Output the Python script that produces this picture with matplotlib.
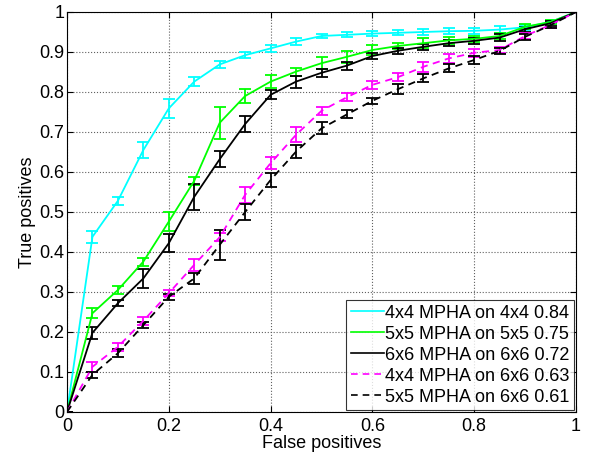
import matplotlib
matplotlib.use("Agg")
import matplotlib.pyplot as plt
import numpy as np

plt.rcParams['font.family'] = ['Liberation Sans', 'DejaVu Sans']

fp = [0, 0.05, 0.1, 0.15, 0.2, 0.25, 0.3, 0.35, 0.4, 0.45, 0.5,
      0.55, 0.6, 0.65, 0.7, 0.75, 0.8, 0.85, 0.9, 0.95, 1.0]

tp_44_44 = [0, 0.438, 0.528, 0.655, 0.759, 0.826, 0.869, 0.892, 0.909, 0.926, 0.940,
            0.943, 0.946, 0.948, 0.950, 0.952, 0.953, 0.956, 0.962, 0.975, 1.0]
err_44_44 = [0, 0.015, 0.01, 0.019, 0.023, 0.011, 0.008, 0.008, 0.008, 0.008, 0.006,
             0.006, 0.006, 0.006, 0.008, 0.008, 0.008, 0.008, 0.006, 0.006, 0]

tp_55_55 = [0, 0.247, 0.305, 0.376, 0.476, 0.578, 0.723, 0.790, 0.826, 0.851, 0.872,
            0.888, 0.905, 0.915, 0.922, 0.929, 0.933, 0.940, 0.963, 0.975, 1.0]
err_55_55 = [0, 0.013, 0.01, 0.01, 0.023, 0.01, 0.04, 0.017, 0.017, 0.01, 0.015,
             0.015, 0.012, 0.008, 0.013, 0.008, 0.008, 0.008, 0.006, 0.006, 0]

tp_66_66 = [0, 0.198, 0.272, 0.334, 0.422, 0.538, 0.632, 0.720, 0.793, 0.826, 0.848,
            0.866, 0.890, 0.903, 0.913, 0.922, 0.928, 0.936, 0.957, 0.972, 1.0]
err_66_66 = [0, 0.015, 0.008, 0.024, 0.023, 0.033, 0.02, 0.019, 0.011, 0.015, 0.01,
             0.01, 0.008, 0.008, 0.008, 0.008, 0.008, 0.008, 0.006, 0.006, 0]

tp_44_66 = [0, 0.113, 0.163, 0.228, 0.297, 0.368, 0.437, 0.543, 0.622, 0.693, 0.753,
            0.787, 0.818, 0.837, 0.863, 0.884, 0.898, 0.905, 0.940, 0.968, 1.0]
err_44_66 = [0, 0.013, 0.01, 0.01, 0.008, 0.015, 0.01, 0.02, 0.015, 0.019, 0.01,
             0.01, 0.01, 0.01, 0.012, 0.012, 0.01, 0.008, 0.008, 0.008, 0]

tp_55_66 = [0, 0.093, 0.147, 0.217, 0.288, 0.334, 0.418, 0.500, 0.580, 0.651, 0.709,
            0.744, 0.778, 0.807, 0.834, 0.859, 0.880, 0.903, 0.938, 0.967, 1.0]
err_55_66 = [0, 0.008, 0.01, 0.008, 0.008, 0.013, 0.0375, 0.021, 0.017, 0.017, 0.015,
             0.01, 0.008, 0.013, 0.01, 0.01, 0.01, 0.008, 0.008, 0.008, 0]

labels = ["4x4 MPHA on 4x4 0.84", "5x5 MPHA on 5x5 0.75", "6x6 MPHA on 6x6 0.72",
          "4x4 MPHA on 6x6 0.63", "5x5 MPHA on 6x6 0.61"]
series = [(tp_44_44, err_44_44, '#00ffff', '-'),
          (tp_55_55, err_55_55, '#00ff00', '-'),
          (tp_66_66, err_66_66, '#000000', '-'),
          (tp_44_66, err_44_66, '#ff00ff', '--'),
          (tp_55_66, err_55_66, '#000000', '--')]

fig = plt.figure(figsize=(5.9, 4.57), dpi=100)
ax = fig.add_axes([67/590, 45/457, 509/590, 400/457])

handles = []
for (tp, err, c, ls), lab in zip(series, labels):
    dash = (0, (4, 3)) if ls == '--' else '-'
    eb = ax.errorbar(fp, tp, yerr=err, color=c, linestyle=dash, linewidth=1.3,
                     elinewidth=1.3, capsize=4, capthick=1.3, label=lab)
    eb[-1][0].set_linestyle('-')
    line, = ax.plot([], [], color=c, linestyle=dash, linewidth=1.2)
    handles.append(line)

ax.set_xlim(0, 1)
ax.set_ylim(0, 1)
ax.set_xticks(np.arange(0, 1.01, 0.2))
ax.set_xticklabels(['0', '0.2', '0.4', '0.6', '0.8', '1'])
ax.set_yticks(np.arange(0, 1.01, 0.1))
ax.set_yticklabels(['0', '0.1', '0.2', '0.3', '0.4', '0.5', '0.6', '0.7', '0.8', '0.9', '1'])
ax.tick_params(direction='in', labelsize=13, length=4, top=True, right=True)
ax.tick_params(axis='x', pad=4)
ax.tick_params(axis='y', pad=2)
ax.grid(True, linestyle=':', color='#606060', linewidth=0.8)
ax.set_xlabel('False positives', fontsize=13, labelpad=0)
ax.set_ylabel('True positives', fontsize=13, labelpad=2)

leg = ax.legend(handles, labels, loc='lower right', fontsize=13, frameon=True,
                fancybox=False, edgecolor='black', handlelength=1.8,
                handletextpad=0.1, borderaxespad=0.1, labelspacing=0.22,
                borderpad=0.25)
leg.get_frame().set_linewidth(0.8)

fig.savefig('out.png', dpi=100)
